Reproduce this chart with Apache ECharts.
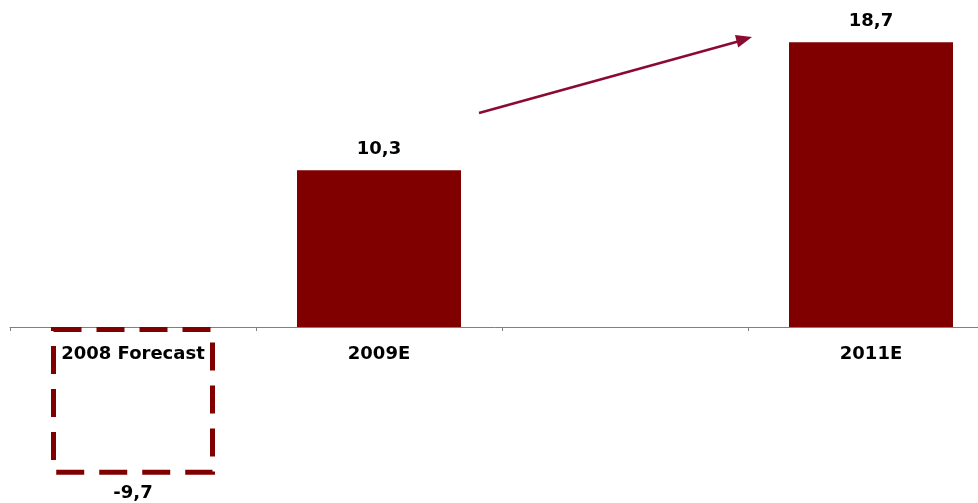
<!DOCTYPE html>
<html>
<head>
<meta charset="utf-8">
<script src="https://cdn.jsdelivr.net/npm/echarts@6/dist/echarts.min.js"></script>
<style>
  html, body { margin: 0; padding: 0; background: #fff; }
  #chart { width: 978px; height: 503px; }
</style>
</head>
<body>
<div id="chart"></div>
<script>
// Categories and values
const categories = ['2008 Forecast', '2009E', '', '2011E'];
const forecastValues = [-9.7, null, null, null];   // outlined (dashed) forecast bar
const estimateValues = [null, 10.3, null, 18.7];   // solid estimate bars

const DARK_RED = '#800000';
const FONT = 'DejaVu Sans';

const fmt = p => String(p.value).replace('.', ',');

const chart = echarts.init(document.getElementById('chart'), null, { renderer: 'canvas' });

// The grid ends at the zero line so the category labels sit just under it;
// the negative forecast bar is drawn unclipped below the grid.
chart.setOption({
  animation: false,
  backgroundColor: '#ffffff',
  grid: {
    left: 10, width: 984, top: 22.4, height: 304.6,
    containLabel: false, outerBoundsMode: 'none'
  },
  xAxis: {
    type: 'category',
    data: categories,
    axisLine: { lineStyle: { color: '#808080', width: 1 } },
    axisTick: { show: true, length: 4, lineStyle: { color: '#808080' } },
    axisLabel: {
      color: '#000', fontFamily: FONT, fontWeight: 'bold', fontSize: 18, margin: 18
    }
  },
  yAxis: {
    type: 'value', min: 0, max: 20, show: false, splitLine: { show: false }
  },
  series: [
    {
      type: 'bar',
      data: forecastValues,
      barWidth: 164,
      barGap: '-100%',
      clip: false,
      itemStyle: {
        color: 'rgba(255,255,255,0)',
        borderColor: DARK_RED,
        borderWidth: 5,
        borderType: [28, 15]
      },
      label: {
        show: true, position: 'bottom', distance: 10, formatter: fmt,
        color: '#000', fontFamily: FONT, fontWeight: 'bold', fontSize: 18
      },
      z: 3
    },
    {
      type: 'bar',
      data: estimateValues,
      barWidth: 164,
      itemStyle: { color: DARK_RED },
      label: {
        show: true, position: 'top', distance: 12, formatter: fmt,
        color: '#000', fontFamily: FONT, fontWeight: 'bold', fontSize: 18
      }
    }
  ],
  // growth arrow between 2009E and 2011E
  graphic: [
    {
      type: 'line',
      shape: { x1: 479, y1: 113, x2: 738, y2: 41.5 },
      style: { stroke: '#8B0A32', lineWidth: 2.5 }
    },
    {
      type: 'polygon',
      shape: { points: [[752, 37], [738.2, 47.5], [735, 35]] },
      style: { fill: '#8B0A32' }
    }
  ]
});
</script>
</body>
</html>
